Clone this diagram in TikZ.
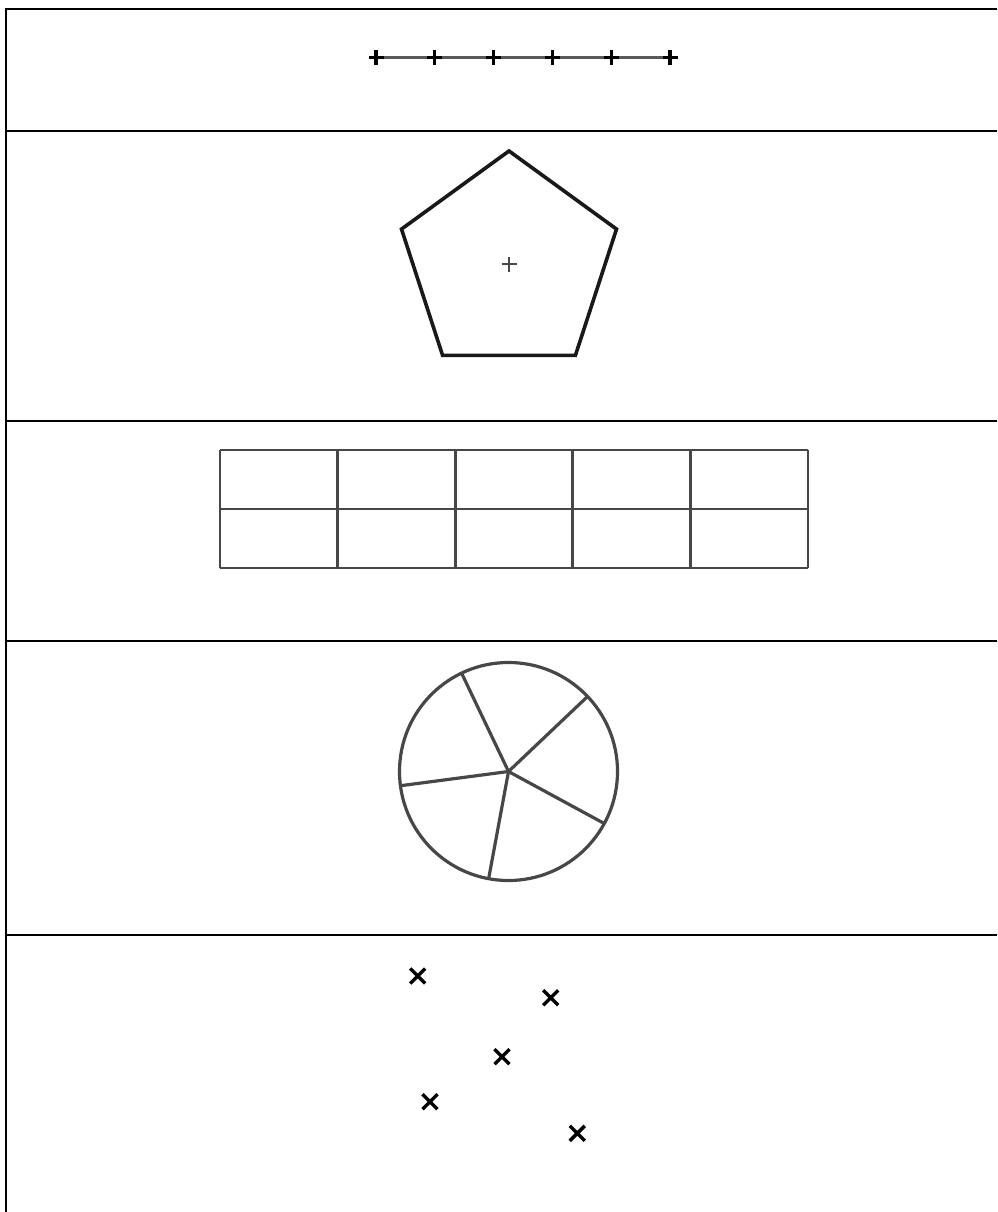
\documentclass[tikz,border=0pt]{standalone}
\begin{document}
\begin{tikzpicture}[x=1pt,y=-1pt,
  frame/.style={line width=2.6pt,black},
  tick/.style={line width=3.3pt,black},
  axisline/.style={line width=2.3pt,black!65},
  pent/.style={line width=3.6pt,black!90,line join=miter},
  ctr/.style={line width=2.6pt,black!72},
  gridline/.style={line width=2.7pt,black!72},
  pie/.style={line width=3.2pt,black!72},
  xmark/.style={line width=3.4pt,black}]
\useasboundingbox (0,0) rectangle (997,1212);
% frame
\draw[frame] (6,1212) -- (6,9) -- (997,9);
\foreach \y in {131,421,641,935} \draw[frame] (6,\y) -- (997,\y);
% row 1: number line with ticks
\draw[axisline] (376,57.5) -- (670,57.5);
\foreach \x in {376,434.8,493.6,552.4,611.2,670}
  \draw[tick] (\x-7.5,57.5) -- (\x+7.5,57.5) (\x,50) -- (\x,65);
% row 2: pentagon
\draw[pent] (509,151) -- (616.5,229.1) -- (575.4,355.4) -- (442.6,355.4) -- (401.5,229.1) -- cycle;
\draw[ctr] (501.5,264) -- (516.5,264) (509,256.5) -- (509,271.5);
% row 3: grid
\foreach \x in {220,337.6,455.2,572.8,690.4,808} \draw[gridline] (\x,450) -- (\x,568);
\foreach \y in {450,509,568} \draw[gridline] (220,\y) -- (808,\y);
% row 4: pie
\coordinate (cc) at (508.5,771.5);
\draw[pie] (cc) circle[radius=109];
\foreach \a in {43.5,115.5,187.5,259.5,331.5}
  \draw[pie] (cc) -- ++({109*cos(\a)},{-109*sin(\a)});
% row 5: crosses
\foreach \p in {(417.7,976),(550.7,997.7),(502,1056.7),(430,1101.7),(577.3,1133.3)}
  \draw[xmark] \p ++(-7.5,-7.5) -- ++(15,15) \p ++(-7.5,7.5) -- ++(15,-15);
\end{tikzpicture}
\end{document}
